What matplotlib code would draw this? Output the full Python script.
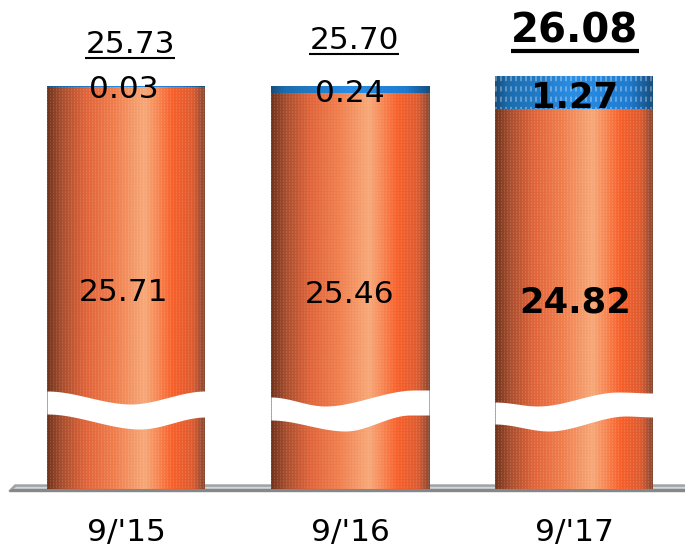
import numpy as np
import matplotlib
matplotlib.use('Agg')
import matplotlib.pyplot as plt
from matplotlib.colors import LinearSegmentedColormap

periods = ["9/'15", "9/'16", "9/'17"]
lower = [25.71, 25.46, 24.82]
upper = [0.03, 0.24, 1.27]
totals = ['25.73', '25.70', '26.08']
lower_labels = ['25.71', '25.46', '24.82']
upper_labels = ['0.03', '0.24', '1.27']

W, H = 685, 550
px_per_unit = 25.4
BASE = 26.09 - 412 / px_per_unit
top_val = BASE + 489 / px_per_unit

orange = LinearSegmentedColormap.from_list('orange', [
    (0, '#73341c'), (0.09, '#a84e2e'), (0.24, '#e0643a'), (0.42, '#f07d4c'),
    (0.62, '#f7a878'), (0.8, '#f8602a'), (0.93, '#dc5c32'), (1, '#8a4a34')])
blue = LinearSegmentedColormap.from_list('blue', [
    (0, '#17507f'), (0.08, '#1c6cad'), (0.5, '#2a8ee6'), (0.85, '#1f7cd0'), (1, '#174f80')])


def textured(cmap, w, h, col_step, row_step, amount):
    # gradient across the bar with a fine woven dot pattern
    img = cmap(np.linspace(0, 1, w))[None, :, :3].repeat(h, axis=0)
    dots = np.outer(np.arange(h) % row_step[0] < row_step[1], np.arange(w) % col_step[0] < col_step[1])
    img[dots] = img[dots] * (1 - amount) + amount
    return np.clip(img, 0, 1)


fig = plt.figure(figsize=(W / 100, H / 100), dpi=100)
ax = fig.add_axes([0, 61 / H, 1, 489 / H])
x = np.arange(3)

# ground plate
ax.fill([9 / W, 15 / W, 1, 1], [-2 / 489, 4 / 489, 4 / 489, -2 / 489], color='#a0a2a4',
        transform=ax.transAxes, clip_on=False, zorder=1)
ax.fill([16 / W, 1, 1, 13 / W], [2 / 489, 2 / 489, 0, 0], color='#d4d5d6',
        transform=ax.transAxes, clip_on=False, zorder=1)
ax.fill([9 / W, 1, 1, 12 / W], [-2 / 489, -2 / 489, 0, 0], color='#85888b',
        transform=ax.transAxes, clip_on=False, zorder=1)

bar_w = 158 / 224
low_bars = ax.bar(x, lower, width=bar_w, color='none', zorder=2)
up_bars = ax.bar(x, upper, width=bar_w, bottom=lower, color='none', zorder=2)

for b in low_bars:
    x0, x1 = b.get_x(), b.get_x() + b.get_width()
    h_px = int(round((b.get_height() - BASE) * px_per_unit))
    ax.imshow(textured(orange, 158, h_px, (3, 1), (3, 2), 0.12), aspect='auto', interpolation='bilinear',
              extent=(x0, x1, BASE, b.get_height()), zorder=2)
for b in up_bars:
    x0, x1 = b.get_x(), b.get_x() + b.get_width()
    h_px = max(int(round(b.get_height() * px_per_unit)), 1)
    ax.imshow(textured(blue, 158, h_px, (5, 2), (10, 5), 0.3 if h_px > 12 else 0.0), aspect='auto',
              interpolation='bilinear', extent=(x0, x1, b.get_y(), b.get_y() + b.get_height()), zorder=2)

ax.set_xlim(-126 / 224, (W - 126) / 224)
ax.set_ylim(BASE, top_val)

# axis break, white wavy band across each bar (position along bar, pixels up from the base)
break_top = [
    [(0, 98), (0.53, 85), (1, 98)],
    [(0, 92), (0.34, 83), (0.91, 99), (1, 99)],
    [(0, 87), (0.27, 83), (0.78, 97), (1, 96)],
]
break_bot = [
    [(0, 75), (0.59, 60), (1, 72)],
    [(0, 69), (0.47, 58), (0.88, 74), (1, 74)],
    [(0, 65), (0.34, 58), (0.83, 73), (1, 72)],
]


def wave(keys, xs):
    # smooth steps between the key points
    kx = [k[0] for k in keys]
    ky = [k[1] for k in keys]
    seg = np.clip(np.searchsorted(kx, xs, side='right') - 1, 0, len(kx) - 2)
    t = (xs - np.take(kx, seg)) / (np.take(kx, seg + 1) - np.take(kx, seg))
    t = t * t * (3 - 2 * t)
    return np.take(ky, seg) + (np.take(ky, seg + 1) - np.take(ky, seg)) * t


xs = np.linspace(0, 1, 120)
for i in range(3):
    xp = x[i] - bar_w / 2 + xs * bar_w
    ax.fill_between(xp, BASE + wave(break_bot[i], xs) / px_per_unit, BASE + wave(break_top[i], xs) / px_per_unit,
                    color='white', lw=0, zorder=3)

# value labels, heights in pixels above the base
weights = ['normal', 'normal', 'bold']
sizes = [22.5, 22.5, 25.5]
lower_h = [196, 194, 186]
upper_h = [399, 395, 391]
total_h = [444, 448, 457]
shift = [-2 / 224, 0, 1 / 224]
for i in range(3):
    ax.text(x[i] + shift[i], BASE + lower_h[i] / px_per_unit, lower_labels[i], ha='center', va='center',
            fontsize=sizes[i], fontweight=weights[i], color='black', zorder=5)
    ax.text(x[i] + shift[i], BASE + upper_h[i] / px_per_unit, upper_labels[i], ha='center', va='center',
            fontsize=sizes[i], fontweight=weights[i], color='black', zorder=5)

total_txt = []
for i in range(3):
    t = ax.text(x[i] + (4 / 224 if i < 2 else 1 / 224), BASE + total_h[i] / px_per_unit, totals[i], ha='center',
                va='center', fontsize=29 if i == 2 else 22.5, fontweight=weights[i], color='black', zorder=5)
    total_txt.append(t)

fig.canvas.draw()
rend = fig.canvas.get_renderer()
inv = ax.transData.inverted()
for i, t in enumerate(total_txt):
    bb = t.get_window_extent(rend)
    p0 = inv.transform((bb.x0, bb.y0 + 1))
    p1 = inv.transform((bb.x1, bb.y0 + 1))
    ax.plot([p0[0], p1[0]], [p0[1], p0[1]], color='black', lw=3 if i == 2 else 1.5,
            solid_capstyle='butt', zorder=5)

ax.set_xticks(x)
ax.set_xticklabels(periods, fontsize=22.5)
ax.tick_params(axis='x', length=0, pad=21)
ax.set_yticks([])
for s in ax.spines.values():
    s.set_visible(False)

fig.savefig('out.png', dpi=100)
